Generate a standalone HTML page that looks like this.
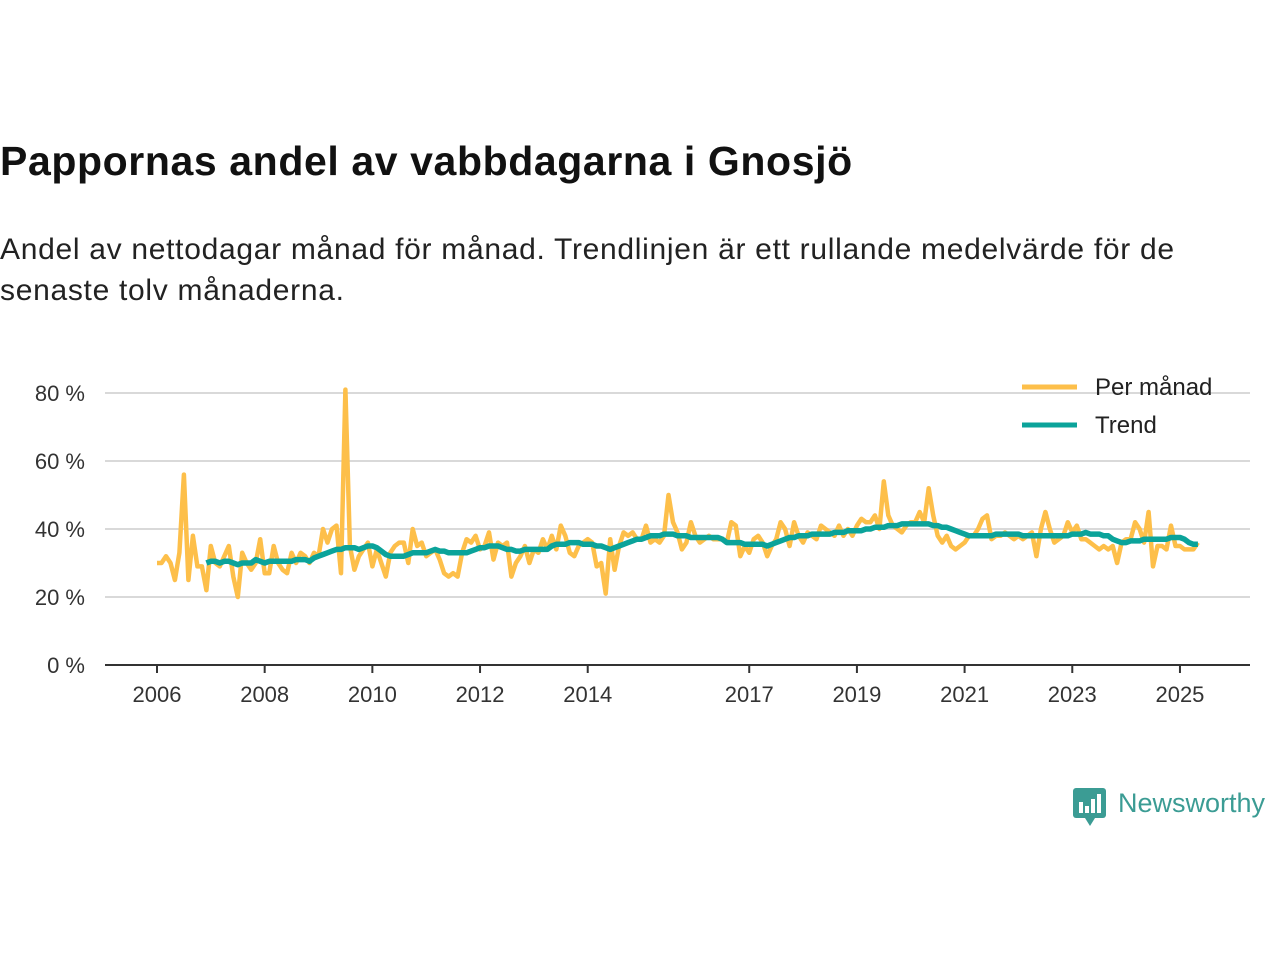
<!DOCTYPE html>
<html><head><meta charset="utf-8"><style>
body{margin:0;background:#fff;font-family:"Liberation Sans","DejaVu Sans",sans-serif;}
#wrap{position:relative;width:1280px;height:960px;overflow:hidden;}
h1{position:absolute;left:0;top:138px;margin:0;font-size:41px;font-weight:bold;color:#111;letter-spacing:0.6px;z-index:2;}
p{position:absolute;left:0;top:229px;margin:0;font-size:30px;line-height:41px;color:#222;width:1240px;letter-spacing:0.7px;z-index:2;}
</style></head><body><div id="wrap">
<h1>Pappornas andel av vabbdagarna i Gnosjö</h1>
<p>Andel av nettodagar månad för månad. Trendlinjen är ett rullande medelvärde för de senaste tolv månaderna.</p>
<svg id="chart" width="1280" height="960" style="position:absolute;left:0;top:0;z-index:1"></svg>
</div>
<script>
const yTicks=[0,20,40,60,80];
const xTickYears=[2006,2008,2010,2012,2014,2017,2019,2021,2023,2025];
const monthlyStart=2006;
const monthly=[30,30,32,30,25,33,56,25,38,29,29,22,
35,30,29,32,35,26,20,33,30,28,30,37,
27,27,35,30,28,27,33,30,33,32,30,33,
32,40,36,40,41,27,81,35,28,32,34,36,
29,34,30,26,33,35,36,36,30,40,35,36,
32,33,34,31,27,26,27,26,33,37,36,38,
34,35,39,31,36,35,36,26,30,32,35,30,
34,33,37,34,38,34,41,38,33,32,35,36,
37,36,29,30,21,37,28,35,39,38,39,37,
37,41,36,37,36,38,50,42,39,34,36,42,
38,36,37,38,37,37,37,36,42,41,32,35,
33,37,38,36,32,35,37,42,40,35,42,38,
36,39,38,37,41,40,39,38,41,38,40,38,
41,43,42,42,44,40,54,44,41,40,39,41,
42,42,45,42,52,44,38,36,38,35,34,35,
36,38,38,40,43,44,37,38,38,39,38,37,
38,37,38,39,32,40,45,40,36,37,38,42,
39,41,37,37,36,35,34,35,34,35,30,36,
37,37,42,40,36,45,29,35,35,34,41,35,
35,34,34,34,36];
const trendStartIndex=11;
const trend=[30,
30.5,30.5,30,30.5,30.5,30,29.5,30,30,30,31,30.5,
30,30.5,30.5,30.5,30.5,30.5,30.5,31,31,31,30.5,31.5,
32,32.5,33,33.5,34,34,34.5,34.5,34.5,34,34.5,35,
35,34.5,33.5,32.5,32,32,32,32,32.5,33,33,33,
33,33.5,34,33.5,33.5,33,33,33,33,33,33.5,34,
34.5,34.5,35,35,35,34.5,34,34,33.5,33.5,34,34,
34,34,34,34,35,35.5,35.5,35.5,36,36,36,35.5,
35.5,35.5,35,35,34.5,34,34.5,35,35.5,36,36.5,37,
37,37.5,38,38,38,38.5,38.5,38.5,38,38,38,37.5,
37.5,37.5,37.5,37.5,37.5,37.5,37,36,36,36,36,35.5,
35.5,35.5,35.5,35.5,35,35.5,36,36.5,37,37.5,37.5,38,
38,38,38.5,38.5,38.5,38.5,38.5,39,39,39,39.5,39.5,
39.5,39.5,40,40,40.5,40.5,40.5,41,41,41,41.5,41.5,
41.5,41.5,41.5,41.5,41.5,41,41,40.5,40.5,40,39.5,39,
38.5,38,38,38,38,38,38,38.5,38.5,38.5,38.5,38.5,
38.5,38,38,38,38,38,38,38,38,38,38,38,
38.5,38.5,38.5,39,38.5,38.5,38.5,38,38,37,36.5,36,
36,36.5,36.5,36.5,37,37,37,37,37,37,37.5,37.5,
37.5,37,36,35.5,35.5];
const NS='http://www.w3.org/2000/svg';
const svg=document.getElementById('chart');
const X=yr=>157+(yr-2006)*53.84;
const Y=v=>665-v*3.4;
function mk(t,a){const e=document.createElementNS(NS,t);for(const k in a)e.setAttribute(k,a[k]);svg.appendChild(e);return e;}
yTicks.forEach(v=>{
  if(v>0){const g=mk('line',{x1:105,x2:1250,y1:Y(v),y2:Y(v),stroke:'#d9d9d9','stroke-width':2});
  
  }
  const t=mk('text',{x:85,y:Y(v)+8,'text-anchor':'end','font-size':22,fill:'#333','font-family':'Liberation Sans, sans-serif'});
  t.textContent=v+' %';
  
  
});
const ax=mk('line',{x1:105,x2:1250,y1:665,y2:665,stroke:'#333','stroke-width':2});


xTickYears.forEach(yr=>{
  const l=mk('line',{x1:X(yr),x2:X(yr),y1:665,y2:673,stroke:'#333','stroke-width':2});
  
  
  const t=mk('text',{x:X(yr),y:702,'text-anchor':'middle','font-size':22,fill:'#333','font-family':'Liberation Sans, sans-serif'});
  t.textContent=yr;
  
  
});
const mp=monthly.map((v,i)=>X(monthlyStart+i/12).toFixed(1)+','+Y(v).toFixed(1)).join(' ');
const p1=mk('polyline',{points:mp,fill:'none',stroke:'#fdbf4a','stroke-width':4.5,'stroke-linejoin':'round'});


const tp=trend.map((v,i)=>X(monthlyStart+(i+trendStartIndex)/12).toFixed(1)+','+Y(v).toFixed(1)).join(' ');
const p2=mk('polyline',{points:tp,fill:'none',stroke:'#0ba39a','stroke-width':5.5,'stroke-linejoin':'round'});


[['Per månad','#fdbf4a',387],['Trend','#0ba39a',425]].forEach(([n,c,y])=>{
  const l=mk('line',{x1:1022,x2:1077,y1:y,y2:y,stroke:c,'stroke-width':5});
  
  
  const t=mk('text',{x:1095,y:y+8,'font-size':24,fill:'#222','font-family':'Liberation Sans, sans-serif'});
  t.textContent=n;
  
  
});
const lg=mk('g',{transform:'translate(1073,788)'});


lg.innerHTML='<rect x="0" y="0" width="33" height="30" rx="3" fill="#3b9c94"/><path d="M12 30 L17 38 L22 30Z" fill="#3b9c94"/><rect x="6" y="14" width="4" height="11" fill="#fff"/><rect x="12" y="18" width="4" height="7" fill="#fff"/><rect x="18" y="11" width="4" height="14" fill="#fff"/><rect x="24" y="6" width="4" height="19" fill="#fff"/><text x="45" y="24" font-size="27" fill="#3b9c94" font-family="Liberation Sans, sans-serif">Newsworthy</text>';
</script></body></html>
